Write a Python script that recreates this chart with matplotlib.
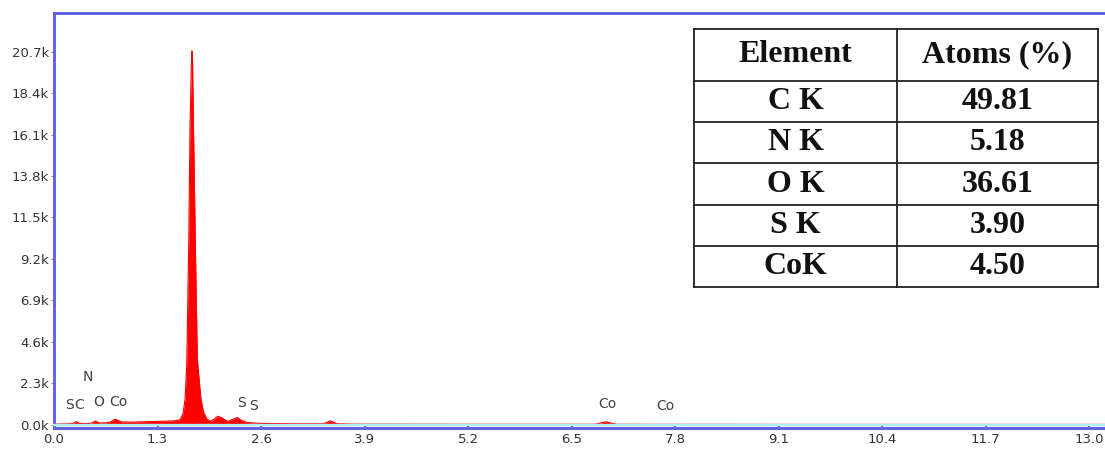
import matplotlib
matplotlib.use("Agg")
import matplotlib.pyplot as plt
from matplotlib.ticker import FuncFormatter, FixedLocator

# EDS spectrum: energy (keV) vs counts
energy_kev = [0.00, 0.10, 0.20, 0.24, 0.28, 0.32, 0.40, 0.47, 0.52, 0.57,
              0.65, 0.71, 0.77, 0.84, 0.95, 1.10, 1.30, 1.50, 1.58, 1.62,
              1.646, 1.667, 1.692, 1.708, 1.725, 1.732, 1.740, 1.750, 1.775, 1.800,
              1.843, 1.876, 1.92, 1.97, 2.00, 2.06, 2.12, 2.18, 2.25, 2.30,
              2.35, 2.42, 2.60, 3.00, 3.38, 3.47, 3.56, 3.80, 5.00, 6.80,
              6.93, 7.06, 7.50, 10.0, 13.2]
counts = [20, 30, 40, 60, 160, 60, 50, 70, 200, 80,
          90, 140, 300, 150, 130, 150, 170, 200, 260, 600,
          1400, 3300, 10000, 16500, 20000, 20750, 20200, 17000, 10000, 3600,
          1500, 700, 300, 180, 270, 460, 340, 170, 290, 390,
          240, 110, 60, 40, 40, 200, 40, 20, 15, 15,
          150, 15, 10, 5, 5]

# Peak identification labels: (text, energy, height)
peak_labels = ["S", "C", "N", "O", "Co", "S", "S", "Co", "Co"]
label_energy = [0.20, 0.32, 0.43, 0.56, 0.81, 2.35, 2.51, 6.95, 7.68]
label_counts = [1100, 1100, 2650, 1250, 1250, 1200, 1050, 1150, 1050]

# Axis ticks
x_ticks = [0.0, 1.3, 2.6, 3.9, 5.2, 6.5, 7.8, 9.1, 10.4, 11.7, 13.0]
y_ticks = [0, 2300, 4600, 6900, 9200, 11500, 13800, 16100, 18400, 20700]

# Quantification table
table_header = ["Element", "Atoms (%)"]
table_elements = ["C K", "N K", "O K", "S K", "CoK"]
table_atoms = ["49.81", "5.18", "36.61", "3.90", "4.50"]

W, H = 1105, 453
fig = plt.figure(figsize=(W / 100, H / 100), dpi=100)
ax = fig.add_axes([54 / W, 1 - 424.5 / H, 1 - 54 / W, (424.5 - 13) / H])

ax.fill_between(energy_kev, counts, 0, color="#ff0000", lw=0, zorder=2)
ax.plot(energy_kev, counts, color="#ff0000", lw=0.8, zorder=2)
# zero-count baseline
ax.axhline(0, color="#aef0f0", lw=1.7, zorder=3, clip_on=False)

ax.set_xlim(0, 13.2)
ax.set_ylim(0, 22860)

ax.xaxis.set_major_locator(FixedLocator(x_ticks))
ax.yaxis.set_major_locator(FixedLocator(y_ticks))
ax.xaxis.set_major_formatter(FuncFormatter(lambda v, p: f"{v:.1f}"))
ax.yaxis.set_major_formatter(FuncFormatter(lambda v, p: f"{v / 1000:.1f}k"))

blue = "#5a5ae6"
for side in ("left", "top", "bottom"):
    ax.spines[side].set_color(blue)
    ax.spines[side].set_linewidth(2)
ax.spines["bottom"].set_position(("outward", 2.5))
ax.spines["bottom"].set_linewidth(2.3)
ax.spines["bottom"].set_color("#6464e0")
ax.spines["right"].set_visible(False)

ax.tick_params(axis="both", labelsize=9.5, labelcolor="#333333")
ax.tick_params(axis="y", direction="out", length=2.5, width=0.8, color="#888888", pad=1)
ax.tick_params(axis="x", direction="inout", length=3, width=1.2, color="#3a3ab0", pad=2)

for t, e, c in zip(peak_labels, label_energy, label_counts):
    ax.text(e, c, t, ha="center", va="center", fontsize=10, color="#404040", zorder=4)

# Table of atomic percentages
tax = fig.add_axes([694 / W, 1 - 287 / H, (1098 - 694) / W, (287 - 29) / H])
tax.set_xlim(0, 1)
tax.set_ylim(0, 1)
tax.axis("off")

total_h = 287 - 29
header_h = 52 / total_h
row_h = (1 - header_h) / len(table_elements)
col_split = (897 - 694) / (1098 - 694)
lc = "#222222"
lw = 1.3
row_edges = [1, 1 - header_h] + [1 - header_h - row_h * (i + 1) for i in range(len(table_elements))]
for yv in row_edges:
    tax.plot([0, 1], [yv, yv], color=lc, lw=lw, clip_on=False)
for xv in (0, col_split, 1):
    tax.plot([xv, xv], [0, 1], color=lc, lw=lw, clip_on=False)

font = dict(family="Liberation Serif", weight="bold", fontsize=23, color="#111111",
            ha="center", va="center")
tax.text(col_split / 2, 1 - header_h / 2, table_header[0], **font)
tax.text((1 + col_split) / 2, 1 - header_h / 2, table_header[1], **font)
for i, (el, at) in enumerate(zip(table_elements, table_atoms)):
    yc = 1 - header_h - row_h * (i + 0.5)
    tax.text(col_split / 2, yc, el, **font)
    tax.text((1 + col_split) / 2, yc, at, **font)

fig.savefig("out.png", dpi=100)
